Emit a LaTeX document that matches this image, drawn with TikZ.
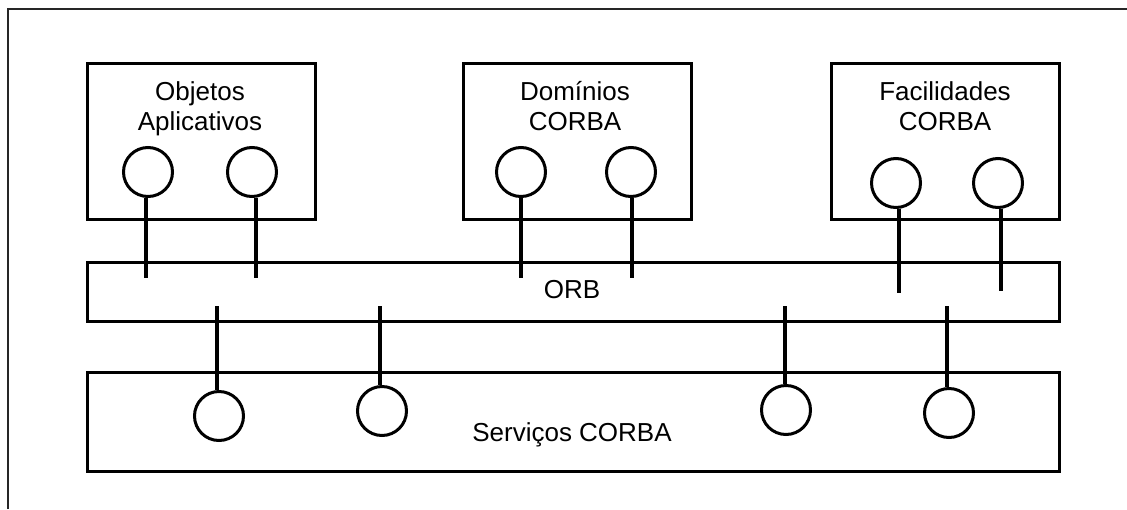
\documentclass[tikz,border=0pt]{standalone}
\usepackage{fontspec}
\setmainfont{Liberation Sans}
\begin{document}
\begin{tikzpicture}[x=1pt,y=-1pt,
  block/.style={draw,rectangle,line width=3pt,inner sep=0pt},
  port/.style={draw,circle,line width=3pt,minimum size=49pt,inner sep=0pt},
  link/.style={line width=4pt},
  txt/.style={font=\fontsize{26}{30}\selectfont,align=center,inner sep=0pt}]
\useasboundingbox (0,0) rectangle (1127,509);
% outer frame
\draw[line width=1.3pt,black!85] (8,509) -- (8,9) -- (1127,9);

% upper components
\node[block,minimum width=228pt,minimum height=156pt] (app) at (201,141) {};
\node[block,minimum width=228pt,minimum height=156pt] (dom) at (577,141) {};
\node[block,minimum width=228pt,minimum height=156pt] (fac) at (945,141) {};
% two-line titles: base anchor sits on the last line
\node[txt,anchor=base] (tapp) at (200,130) {Objetos\\Aplicativos};
\node[txt,anchor=base] (tdom) at (575,130) {Domínios\\CORBA};
\node[txt,anchor=base] (tfac) at (945,130) {Facilidades\\CORBA};

% ORB bus and services
\node[block,minimum width=972pt,minimum height=59pt] (orb) at (573,291.5) {};
\node[txt,anchor=base] (torb) at (572,298) {ORB};
\node[block,minimum width=972pt,minimum height=99pt] (srv) at (573,421.5) {};
\node[txt,anchor=base] (tsrv) at (572,441) {Serviços CORBA};

% interface circles
\node[port] (a1) at (148,172) {};
\node[port] (a2) at (252,172) {};
\node[port] (d1) at (521,172) {};
\node[port] (d2) at (631,172) {};
\node[port] (f1) at (896,183) {};
\node[port] (f2) at (998,183) {};
\node[port] (s1) at (219,416) {};
\node[port] (s2) at (382,411) {};
\node[port] (s3) at (786,410) {};
\node[port] (s4) at (949,413) {};

% stub ends inside the ORB
\coordinate (ea1) at (146,278);
\coordinate (ea2) at (256,278);
\coordinate (ed1) at (521,278);
\coordinate (ed2) at (632,278);
\coordinate (ef1) at (899,293);
\coordinate (ef2) at (1001,291);
\coordinate (es1) at (217,306);
\coordinate (es2) at (380,306);
\coordinate (es3) at (785,306);
\coordinate (es4) at (947,306);

% connectors
\foreach \c/\e in {a1/ea1,a2/ea2,d1/ed1,d2/ed2,f1/ef1,f2/ef2}
  \draw[link] (\e |- \c.south) -- (\e);
\foreach \c/\e in {s1/es1,s2/es2,s3/es3,s4/es4}
  \draw[link] (\e) -- (\e |- \c.north);
\end{tikzpicture}
\end{document}
